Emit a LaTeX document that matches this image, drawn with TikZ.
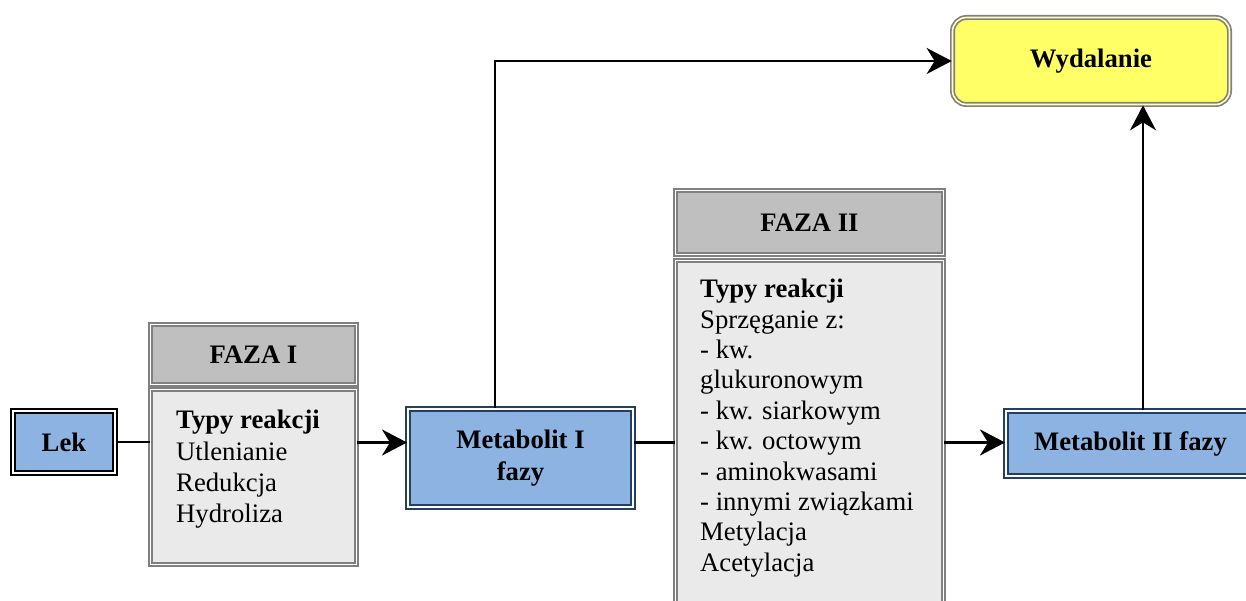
\documentclass[tikz,border=0pt]{standalone}
\usepackage{fontspec}
\setmainfont{Liberation Serif}
\usetikzlibrary{arrows.meta}
\definecolor{blfill}{HTML}{8DB3E2}
\definecolor{navy}{HTML}{243F60}
\definecolor{hdgray}{HTML}{BFBFBF}
\definecolor{bdgray}{HTML}{EAEAEA}
\definecolor{lngray}{HTML}{808080}
\definecolor{yel}{HTML}{FFFF66}
\tikzset{
  txt/.style={inner sep=0pt, text=black},
  boxbase/.style={rectangle, inner sep=0pt, font=\fontsize{26.7}{32}\selectfont\bfseries},
  lekbox/.style={boxbase, draw=black, line width=2pt, double=white, double distance=2pt, fill=blfill},
  metbox/.style={boxbase, draw=navy, line width=2pt, double=white, double distance=1.5pt, fill=blfill, align=center},
  hdbox/.style={boxbase, draw=lngray, line width=1.7pt, double=white, double distance=1.6pt, fill=hdgray},
  bdbox/.style={boxbase, draw=lngray, line width=1.7pt, double=white, double distance=1.6pt, fill=bdgray},
  wydbox/.style={boxbase, draw=lngray, line width=1.7pt, double=yel!40, double distance=1.6pt, fill=yel, rounded corners=14pt},
  conn/.style={line width=2.8pt, black},
  arr/.style={conn, -{Stealth[length=25pt,width=26pt,inset=8pt]}}
}
\begin{document}
\begin{tikzpicture}[x=1pt,y=-1pt]
\useasboundingbox (0,0) rectangle (1246,601);
% boxes
\node[lekbox, minimum width=102pt, minimum height=62pt] (lek) at (64,442) {Lek};
\node[hdbox, minimum width=206pt, minimum height=60pt] (f1h) at (253.5,354.5) {FAZA I};
\node[bdbox, minimum width=206pt, minimum height=175pt] (f1b) at (253.5,477) {};
\node[metbox, minimum width=225pt, minimum height=98pt] (m1) at (520.5,458) {Metabolit I\\fazy};
\node[hdbox, minimum width=268pt, minimum height=64pt] (f2h) at (809.5,222.5) {FAZA II};
\node[bdbox, minimum width=268pt, minimum height=357pt] (f2b) at (809.5,439) {};
\node[metbox, minimum width=249pt, minimum height=65pt] (m2) at (1130.5,443.5) {Metabolit II fazy};
\node[wydbox, minimum width=277pt, minimum height=87pt] (wyd) at (1091,61) {Wydalanie};
% texts
\node[txt, anchor=north west, align=left, font=\fontsize{26.7}{31.3}\selectfont] (t1) at (176,410)
  {\textbf{Typy reakcji}\\Utlenianie\\Redukcja\\Hydroliza};
\node[txt, anchor=north west, align=left, font=\fontsize{26.7}{30.4}\selectfont] (t2) at (700,279)
  {\textbf{Typy reakcji}\\Sprzęganie z:\\- kw.\\glukuronowym\\- kw. siarkowym\\- kw. octowym\\- aminokwasami\\- innymi związkami\\Metylacja\\Acetylacja};
% helper coordinates
\coordinate (row) at (0,442.5);
\coordinate (up1) at (495,0);
\coordinate (up2) at (1143,0);
% connectors
\draw[conn] (lek.east) -- (f1b.west |- lek.east);
\draw[arr] (f1b.east |- row) -- (m1.west |- row);
\draw[conn] (m1.east |- row) -- (f2b.west |- row);
\draw[arr] (f2b.east |- row) -- (m2.west |- row);
\draw[arr] (m1.north -| up1) |- (wyd.west);
\draw[arr] (m2.north -| up2) -- (wyd.south -| up2);
\end{tikzpicture}
\end{document}
